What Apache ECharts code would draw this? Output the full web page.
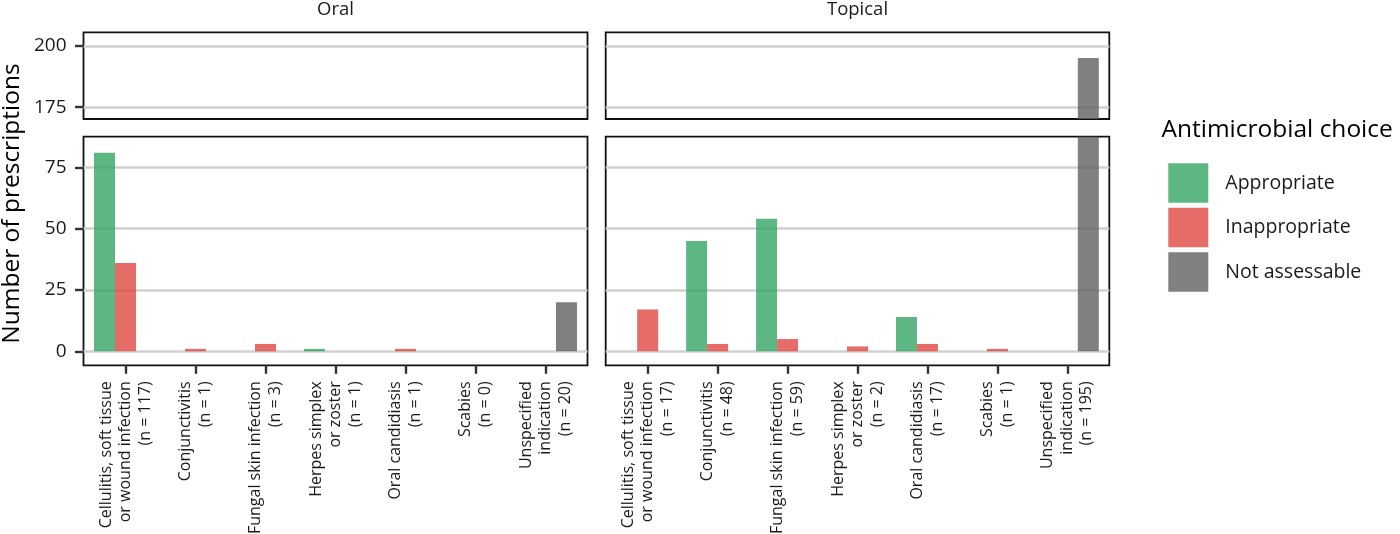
<!DOCTYPE html>
<html><head><meta charset="utf-8">
<script src="https://cdn.jsdelivr.net/npm/echarts@6/dist/echarts.min.js"></script>
<style>html,body{margin:0;padding:0;background:#fff}#c{width:1400px;height:534px}</style>
</head><body><div id="c"></div>
<script>
// ---------------- data ----------------
const categories = ['Cellulitis, soft tissue\nor wound infection', 'Conjunctivitis', 'Fungal skin infection', 'Herpes simplex\nor zoster', 'Oral candidiasis', 'Scabies', 'Unspecified\nindication'];
const oralN = [117, 1, 3, 1, 1, 0, 20];
const topicalN = [17, 48, 59, 2, 17, 1, 195];
const facetNames = ['Oral', 'Topical'];
const seriesNames = ['Appropriate', 'Inappropriate', 'Not assessable'];
const oralAppropriate = [81, null, null, 1, null, null, null];
const oralInappropriate = [36, 1, 3, null, 1, null, null];
const oralNotAssessable = [null, null, null, null, null, null, 20];
const topicalAppropriate = [null, 45, 54, null, 14, null, null];
const topicalInappropriate = [17, 3, 5, 2, 3, 1, null];
const topicalNotAssessable = [null, null, null, null, null, null, 195];
const upperTicks = [175, 200];
const lowerTicks = [0, 25, 50, 75];
const upperRange = [170.2, 205.5];
const lowerRange = [-5.7, 87.5];
const yTitle = 'Number of prescriptions';
const legendTitle = 'Antimicrobial choice';

// ---------------- styling / layout ----------------
const FONT = '"Open Sans", "Noto Sans", sans-serif';
const TXT = '#1a1a1a';
const colors = ['#35A563', '#DE4741', '#606060'];
const panels = [{ left: 83.5, width: 504 }, { left: 605.7, width: 503.6 }];
const rows = [
  { top: 32.3, height: 86.7, range: upperRange, ticks: upperTicks, xlabels: false },
  { top: 136.7, height: 228.6, range: lowerRange, ticks: lowerTicks, xlabels: true }
];
const facetData = [
  { n: oralN, vals: [oralAppropriate, oralInappropriate, oralNotAssessable] },
  { n: topicalN, vals: [topicalAppropriate, topicalInappropriate, topicalNotAssessable] }
];

const grid = [], xAxis = [], yAxis = [], series = [];
facetData.forEach((fd, f) => {
  const labels = categories.map((c, i) => c + '\n(n = ' + fd.n[i] + ')');
  const P = panels[f];
  const unit = P.width / 7.2;
  const inset = 0.1 * unit;
  rows.forEach((R, r) => {
    // outer panel (border + gridlines + y labels)
    const og = grid.length;
    grid.push({ left: P.left, top: R.top, width: P.width, height: R.height, show: true,
      borderColor: '#111', borderWidth: 1.8, backgroundColor: 'transparent', outerBoundsMode: 'none', containLabel: false });
    xAxis.push({ type: 'value', gridIndex: og, show: false, min: 0, max: 1 });
    yAxis.push({ type: 'value', gridIndex: og, min: R.range[0], max: R.range[1],
      axisLine: { show: false, onZero: false },
      axisTick: { show: f === 0, length: 8.5, lineStyle: { color: '#333', width: 2.4 }, customValues: R.ticks },
      axisLabel: { show: f === 0, customValues: R.ticks, fontSize: 19, color: TXT, margin: 17, fontFamily: FONT },
      splitLine: { show: true, lineStyle: { color: '#d0d0d0', width: 2.5 } } });
    // inner grid for bars (ggplot-like discrete padding)
    const ig = grid.length;
    grid.push({ left: P.left + inset, top: R.top, width: P.width - 2 * inset, height: R.height, show: false, outerBoundsMode: 'none', containLabel: false });
    const xi = xAxis.length;
    xAxis.push({ type: 'category', gridIndex: ig, data: labels, position: 'bottom',
      axisLine: { show: false, onZero: false },
      axisTick: { show: R.xlabels, alignWithLabel: true, length: 8.5, lineStyle: { color: '#333', width: 2.4 } },
      axisLabel: { show: R.xlabels, rotate: 90, interval: 0, fontSize: 16, lineHeight: 19.5, margin: 16, color: TXT, fontFamily: FONT },
      splitLine: { show: false } });
    const yi = yAxis.length;
    yAxis.push({ type: 'value', gridIndex: ig, min: R.range[0], max: R.range[1], show: false, splitLine: { show: false } });
    fd.vals.forEach((v, s) => {
      series.push({ type: 'bar', name: seriesNames[s], xAxisIndex: xi, yAxisIndex: yi, data: v,
        barWidth: '30%', barGap: '0%', itemStyle: { color: colors[s], opacity: 0.8 },
        emphasis: { disabled: true }, silent: true });
    });
  });
});

const graphic = [
  { type: 'text', x: panels[0].left + panels[0].width / 2, y: 9.5, style: { text: facetNames[0], align: 'center', verticalAlign: 'middle', font: '18.5px ' + FONT, fill: TXT } },
  { type: 'text', x: panels[1].left + panels[1].width / 2, y: 9.5, style: { text: facetNames[1], align: 'center', verticalAlign: 'middle', font: '18.5px ' + FONT, fill: TXT } },
  { type: 'text', x: 12.5, y: 203.5, rotation: Math.PI / 2, style: { text: yTitle, align: 'center', verticalAlign: 'middle', font: '24.5px ' + FONT, fill: '#000' } },
  { type: 'text', x: 1161.5, y: 130, style: { text: legendTitle, align: 'left', verticalAlign: 'middle', font: '24.5px ' + FONT, fill: '#000' } }
];

const chart = echarts.init(document.getElementById('c'), null, { renderer: 'canvas' });
chart.setOption({
  animation: false,
  backgroundColor: '#fff',
  grid, xAxis, yAxis, series, graphic,
  legend: { orient: 'vertical', left: 1163.3, top: 158.3, itemWidth: 40, itemHeight: 39.5, itemGap: 5, icon: 'rect',
    data: seriesNames, selectedMode: false,
    textStyle: { fontSize: 19.5, color: TXT, fontFamily: FONT, padding: [0, 0, 0, 12] } }
});
</script></body></html>
